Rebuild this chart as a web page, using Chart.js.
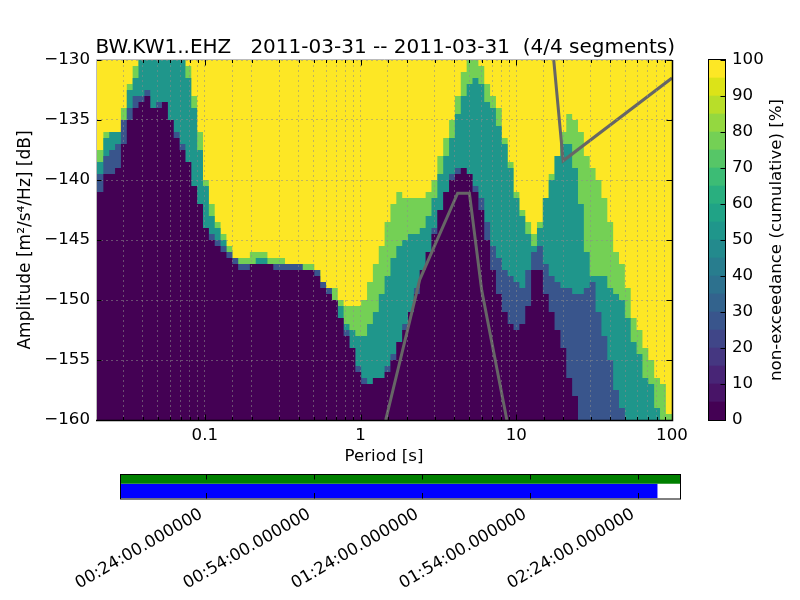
<!DOCTYPE html>
<html>
<head>
<meta charset="utf-8">
<style>
html,body{margin:0;padding:0;background:#fff;width:800px;height:600px;overflow:hidden}
canvas{position:absolute;left:0;top:0}
</style>
<script src="https://cdn.jsdelivr.net/npm/chart.js@4"></script>
</head>
<body>
<canvas id="main" width="800" height="600"></canvas>
<canvas id="cbar" width="800" height="600"></canvas>
<canvas id="time" width="800" height="600"></canvas>
<script>
const chartTitle = 'BW.KW1..EHZ   2011-03-31 -- 2011-03-31  (4/4 segments)';
const periods = [0.02,
 .0223,.02432,.02652,.02892,.03154,.03439,.0375,.0409,
 .0446,.04864,.05304,.05784,.06308,.06878,.075,.0818,
 .0892,.09728,.1061,.1157,.1262,.1376,.15,.1636,
 .1784,.1946,.2122,.2314,.2523,.2751,.3,.3272,
 .3568,.3891,.4243,.4627,.5046,.5503,.6001,.6544,
 .7136,.7782,.8486,.9254,1.009,1.101,1.2,1.309,
 1.427,1.556,1.697,1.851,2.018,2.201,2.4,2.618,
 2.854,3.113,3.394,3.702,4.037,4.402,4.801,5.235,
 5.709,6.226,6.789,7.403,8.073,8.804,9.601,10.47,
 11.42,12.45,13.58,14.81,16.15,17.61,19.2,20.94,
 22.84,24.9,27.16,29.61,32.29,35.22,38.41,41.88,
 45.67,49.81,54.31,59.23,64.59,70.43,76.81,83.77,
 91.34,100];
// top edge (dB) of each band, one value per period column
const greenTop = [-137.5,-136,-136,-136,-134,-132,-130.5,-130,-130,-130,-130,-130,-130,-130,-130,-130.5,-133,-136,-140,-142,
 -143.5,-144.5,-145.5,-146.5,-146.5,-146.5,-146,-146,-146,-146.5,-146.5,-146.5,-147,-147,-147,-147,-147,-147.5,-148.5,-149,
 -149,-150,-150.5,-150.5,-150.5,-150,-148.5,-147,-145.5,-143.5,-142,-141,-141.5,-141.5,-141.5,-141.5,-141,-140,-138,-136.5,
 -135,-133,-131,-130,-130,-130.5,-132,-133,-134,-136.5,-138.5,-141,-142.5,-143.5,-144.5,-143.5,-141.5,-139.5,-138,-136,
 -134.5,-135,-136,-138,-139,-140,-141.5,-143.5,-146,-147,-149,-151.5,-152.5,-154,-155,-156.5,-157,-159.5,-159.5];
const tealTop = [-138.5,-136.5,-136,-136,-135,-132.5,-131.5,-130,-130,-130,-130,-130,-130,-130,-130,-131.5,-134,-137.5,-140.5,-143,
 -144,-145,-146,-146.5,-147,-147,-147,-146.5,-146.5,-147,-147,-147,-147,-147,-147,-147.5,-147.5,-147.5,-148.5,-149,
 -150,-150.5,-152,-152.5,-153,-153,-152,-151,-149.5,-148,-146.5,-145.5,-145,-144.5,-144.5,-144,-143,-141.5,-139.5,-138,
 -136.5,-134.5,-133,-132,-131.5,-132,-133.5,-134,-135.5,-137,-139,-141.5,-143,-144.5,-145.5,-144,-141.5,-140,-138,-137,
 -137,-139,-142,-146,-148,-148,-148,-149,-149.5,-150,-151.5,-153.5,-154.5,-156.5,-157,-159,-160,-160,-160];
const blueTop = [-139.5,-138,-137.5,-137,-135,-134,-133,-133,-132.5,-134,-133.5,-133.5,-135,-136,-137,-138.5,-140.5,-142,-144,-144.5,
 -145,-145.5,-146,-146.5,-147,-147,-147,-147,-147,-147,-147,-147,-147,-147,-147,-147.5,-147.5,-147.5,-148.5,-149,
 -150,-151.5,-152.5,-154,-155.5,-156.5,-157,-156.5,-156.5,-155.5,-154.5,-153.5,-152,-151,-149,-147.5,-146,-144,-142.5,-141,
 -139.5,-139,-139,-139.5,-140.5,-141.5,-143.5,-145.5,-146.5,-147.5,-148,-148.5,-149,-147.5,-146,-145.5,-147,-148,-148.5,-149,
 -149,-149.5,-149.5,-149,-148.5,-151,-153,-155,-157.5,-159,-160,-160,-160,-160,-160,-160,-160,-160,-160];
const purpleTop = [-141,-139.5,-139.5,-139,-137,-135,-134,-133.5,-133,-134,-134,-133.5,-135,-136.5,-137.5,-138.5,-140.5,-142,-144,-145,
 -145.5,-146,-146.5,-147,-147.5,-147.5,-147,-147,-147,-147,-147.5,-147.5,-147.5,-147.5,-147.5,-147.5,-147.5,-148,-149,-149.5,
 -150,-151.5,-153,-154,-156,-157,-157,-156.5,-156.5,-156,-155,-153.5,-152.5,-151,-149.5,-147.5,-146,-144.5,-142.5,-141,
 -140,-139.5,-139,-139.5,-141,-142.5,-145,-147.5,-149.5,-151,-152,-152.5,-152,-150.5,-147.5,-147.5,-149.5,-151,-152.5,-154,
 -156.5,-158,-160,-160,-160,-160,-160,-160,-160,-160,-160,-160,-160,-160,-160,-160,-160,-160,-160];
const modelLowPeriods = [1.45,2.4,4.2,5.0,6.0,8.7];
const modelLowDb = [-160,-148.3,-141.1,-141.1,-149.2,-160];
const modelHighPeriods = [17.4,20,100];
const modelHighDb = [-130,-138.4,-131.5];
const cbarColors = ['#440154','#481467','#482576','#453781','#404688','#39558c','#33638d','#2d718e','#287d8e','#238a8d',
 '#1f968b','#20a386','#29af7f','#3cbc75','#56c667','#74d055','#94d840','#b8de29','#dce318','#fde725'];
const timeTickMinutes = [24,54,84,114,144];
const timeTickLabels = ['00:24:00.000000','00:54:00.000000','01:24:00.000000','01:54:00.000000','02:24:00.000000'];
const dataSpanMinutes = [0,155.6];
const processedSpanMinutes = [0,149.4];

const FONT = 'DejaVu Sans';
Chart.defaults.font.family = FONT;
Chart.defaults.font.size = 16.67;
Chart.defaults.color = '#000';
Chart.defaults.animation = false;
Chart.defaults.responsive = false;
Chart.defaults.devicePixelRatio = 1;
Chart.defaults.plugins.legend.display = false;
Chart.defaults.plugins.tooltip.enabled = false;

const xy = (xs, ys) => xs.map((x, i) => ({x, y: ys[i]}));
const band = (tops, color, order) => ({
  data: xy(periods, tops.concat(tops[tops.length - 1]).slice(0, periods.length)),
  stepped: true, fill: 'start', backgroundColor: color, borderWidth: 0, pointRadius: 0, order
});
const model = (xs, ys) => ({
  data: xy(xs, ys), borderColor: '#666', borderWidth: 3, pointRadius: 0, fill: false, order: 0, tension: 0
});
const isDecade = v => Math.abs(Math.log10(v) - Math.round(Math.log10(v))) < 1e-6;

const mainFrame = {
  id: 'mainFrame',
  afterDraw(chart) {
    const {ctx, chartArea: a, scales: {x, y}} = chart;
    ctx.save();
    ctx.lineWidth = 1; ctx.strokeStyle = '#000';
    ctx.beginPath();
    x.ticks.forEach(t => {
      const p = Math.round(x.getPixelForValue(t.value)) + .5;
      const l = isDecade(t.value) ? 5.5 : 3;
      ctx.moveTo(p, a.top); ctx.lineTo(p, a.top + l);
      ctx.moveTo(p, a.bottom); ctx.lineTo(p, a.bottom - l);
    });
    y.ticks.forEach(t => {
      const p = Math.round(y.getPixelForValue(t.value)) + .5;
      ctx.moveTo(a.left, p); ctx.lineTo(a.left + 5.5, p);
      ctx.moveTo(a.right, p); ctx.lineTo(a.right - 5.5, p);
    });
    ctx.stroke();
    ctx.strokeStyle = '#bbb'; ctx.lineWidth = 1;
    ctx.beginPath();
    ctx.moveTo(a.left + .5, a.bottom); ctx.lineTo(a.left + .5, a.top - .5); ctx.lineTo(a.right, a.top - .5);
    ctx.stroke();
    ctx.strokeStyle = '#000'; ctx.lineWidth = 1.5;
    ctx.beginPath();
    ctx.moveTo(a.left, a.bottom + .5); ctx.lineTo(a.right + .5, a.bottom + .5); ctx.lineTo(a.right + .5, a.top);
    ctx.stroke();
    ctx.restore();
  }
};

new Chart(document.getElementById('main'), {
  type: 'line',
  data: {datasets: [
    model(modelLowPeriods, modelLowDb),
    model(modelHighPeriods, modelHighDb),
    band(purpleTop, cbarColors[0], 1),
    band(blueTop, cbarColors[5], 2),
    band(tealTop, cbarColors[10], 3),
    band(greenTop, cbarColors[15], 4),
    band(periods.map(() => -130), cbarColors[19], 5)
  ]},
  options: {
    layout: {autoPadding: false, padding: {left: 0, right: 125, top: 0, bottom: 133}},
    plugins: {
      title: {display: true, text: chartTitle, align: 'end',
        font: {family: FONT, size: 20, weight: 'normal'}, color: '#000',
        padding: {top: 36, bottom: 0}}
    },
    scales: {
      x: {
        type: 'logarithmic', min: 0.02, max: 100,
        afterFit: s => { s.height = 47; },
        grid: {z: 1, color: 'rgba(140,140,140,.55)', drawTicks: false, lineWidth: 1},
        border: {display: false, dash: [2, 3]},
        ticks: {autoSkip: false, maxRotation: 0, minRotation: 0, padding: 6,
          callback: v => isDecade(v) ? String(+v.toPrecision(3)) : ''},
        title: {display: true, text: 'Period [s]', padding: {top: 0, bottom: 0}, font: {family: FONT, size: 16.67}}
      },
      y: {
        type: 'linear', min: -160, max: -130,
        afterFit: s => { s.width = 96; },
        grid: {z: 1, color: 'rgba(140,140,140,.55)', drawTicks: false, lineWidth: 1},
        border: {display: false, dash: [2, 3]},
        ticks: {stepSize: 5, padding: 6, callback: v => '\u2212' + Math.abs(v)},
        title: {display: true, text: 'Amplitude [m\u00b2/s\u2074/Hz] [dB]', padding: {top: 15, bottom: 0}, font: {family: FONT, size: 17}}
      },
      rightGutter: {
        type: 'linear', position: 'right', min: 0, max: 1,
        afterFit: s => { s.width = 3; },
        grid: {display: false, drawTicks: false}, border: {display: false},
        ticks: {display: false}
      }
    }
  },
  plugins: [mainFrame]
});

const cbarFrame = {
  id: 'cbarFrame',
  afterDraw(chart) {
    const {ctx, chartArea: a, scales: {y}} = chart;
    ctx.save();
    ctx.strokeStyle = '#000'; ctx.lineWidth = 1;
    ctx.strokeRect(a.left + .5, a.top - .5, a.right - a.left - 1, a.bottom - a.top + 1);
    ctx.beginPath();
    y.ticks.forEach(t => {
      const p = Math.round(y.getPixelForValue(t.value)) + .5;
      ctx.moveTo(a.right, p); ctx.lineTo(a.right - 5.5, p);
    });
    ctx.stroke();
    ctx.translate(777, 240); ctx.rotate(-Math.PI / 2);
    ctx.font = '16.67px "' + FONT + '"'; ctx.fillStyle = '#000';
    ctx.textAlign = 'center'; ctx.textBaseline = 'middle';
    ctx.fillText('non-exceedance (cumulative) [%]', 0, 0);
    ctx.restore();
  }
};

new Chart(document.getElementById('cbar'), {
  type: 'bar',
  data: {labels: [''], datasets: cbarColors.map(c => ({
    data: [100 / cbarColors.length], backgroundColor: c, barPercentage: 1, categoryPercentage: 1, borderWidth: 0
  }))},
  options: {
    layout: {autoPadding: false, padding: {left: 708, right: 0, top: 60, bottom: 180}},
    scales: {
      x: {display: false, stacked: true},
      y: {
        position: 'right', stacked: true, min: 0, max: 100,
        afterFit: s => { s.width = 74; },
        grid: {display: false, drawTicks: false}, border: {display: false},
        ticks: {stepSize: 10, padding: 6}
      }
    }
  },
  plugins: [cbarFrame]
});

const rowSplit = 0.6;
const timeFrame = {
  id: 'timeFrame',
  afterDraw(chart) {
    const {ctx, chartArea: a, scales: {x}} = chart;
    ctx.save();
    ctx.strokeStyle = '#000'; ctx.lineWidth = 1;
    ctx.strokeRect(a.left + .5, a.top + .5, a.right - a.left, a.bottom - a.top);
    ctx.beginPath();
    timeTickMinutes.forEach(v => {
      const p = Math.round(x.getPixelForValue(v)) + .5;
      ctx.moveTo(p, a.top); ctx.lineTo(p, a.top + 5.5);
      ctx.moveTo(p, a.bottom); ctx.lineTo(p, a.bottom - 5.5);
    });
    ctx.stroke();
    ctx.restore();
  }
};

new Chart(document.getElementById('time'), {
  type: 'line',
  data: {datasets: [
    {data: dataSpanMinutes.map(x => ({x, y: 1})), fill: {value: rowSplit}, backgroundColor: '#008000', borderWidth: 0, pointRadius: 0},
    {data: processedSpanMinutes.map(x => ({x, y: rowSplit})), fill: 'start', backgroundColor: '#0000ff', borderWidth: 0, pointRadius: 0}
  ]},
  options: {
    layout: {autoPadding: false, padding: {left: 120, right: 120, top: 474, bottom: 1}},
    scales: {
      x: {
        type: 'linear', min: dataSpanMinutes[0], max: dataSpanMinutes[1],
        afterBuildTicks: s => { s.ticks = timeTickMinutes.map(value => ({value})); },
        afterFit: s => { s.height = 100.5; },
        grid: {display: false, drawTicks: false}, border: {display: false},
        ticks: {autoSkip: false, minRotation: 30, maxRotation: 30, padding: 6, labelOffset: -5,
          callback: (v, i) => timeTickLabels[i]}
      },
      y: {display: false, min: 0, max: 1}
    }
  },
  plugins: [timeFrame]
});
</script>
</body>
</html>
